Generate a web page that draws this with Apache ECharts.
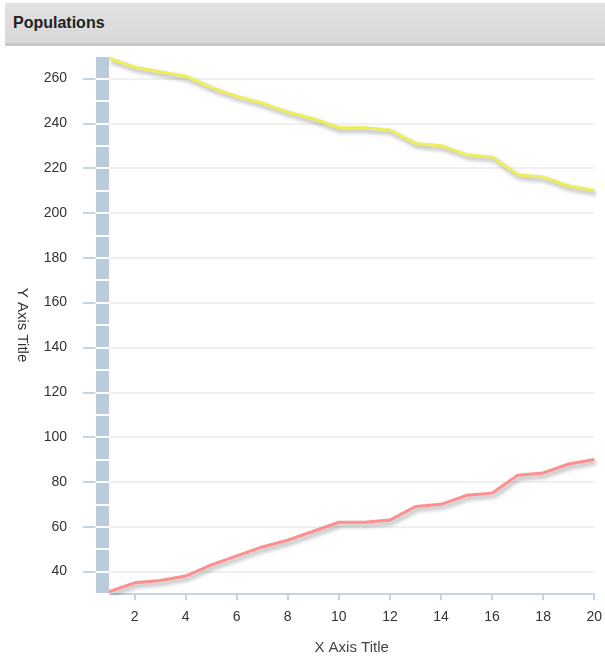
<!DOCTYPE html>
<html>
<head>
<meta charset="utf-8">
<title>Populations</title>
<script src="https://cdn.jsdelivr.net/npm/echarts@6/dist/echarts.min.js"></script>
<style>
  html, body { margin: 0; padding: 0; background: #fff; }
  #chart { position: absolute; left: 0; top: 0; width: 605px; height: 666px; }
  .header {
    position: absolute; left: 5px; top: 3px; right: 0; height: 40px;
    background: linear-gradient(#e2e2e2, #d8d8d8);
    border-bottom: 3px solid #c8c8c8;
    font: bold 16px 'Liberation Sans', Arial, sans-serif;
    color: #222; line-height: 40px; padding-left: 8px;
    z-index: 2;
  }
</style>
</head>
<body>
<div id="chart"></div>
<div class="header">Populations</div>
<script>
// x categories (1..20)
const xValues = ['1', '2', '3', '4', '5', '6', '7', '8', '9', '10',
  '11', '12', '13', '14', '15', '16', '17', '18', '19', '20']
// upper (yellow) series
const seriesA = [269, 265, 263, 261, 256, 252, 249, 245, 242, 238,
  238, 237, 231, 230, 226, 225, 217, 216, 212, 210]
// lower (red) series
const seriesB = [31, 35, 36, 38, 43, 47, 51, 54, 58, 62,
  62, 63, 69, 70, 74, 75, 83, 84, 88, 90]

const Y_MIN = 30
const Y_MAX = 270
const FONT = "'Liberation Sans', Arial, sans-serif"
const axisBlue = '#c5d4e3'
const bandColor = '#bccbdb'

const everyOther = (i) => i % 2 === 1

const chart = echarts.init(document.getElementById('chart'))

const lineShadow = {
  shadowColor: 'rgba(0,0,0,0.35)',
  shadowBlur: 4,
  shadowOffsetX: 2,
  shadowOffsetY: 3,
}

chart.setOption({
  animation: false,
  grid: { left: 109, right: 6, top: 56, bottom: 72 },
  xAxis: {
    type: 'category',
    data: xValues,
    boundaryGap: false,
    name: 'X Axis Title',
    nameLocation: 'middle',
    nameGap: 46,
    nameTextStyle: { color: '#444', fontSize: 15, fontFamily: FONT },
    axisLine: { lineStyle: { color: axisBlue, width: 2 } },
    axisTick: { alignWithLabel: true, interval: everyOther, length: 6, lineStyle: { color: axisBlue, width: 2 } },
    axisLabel: { interval: everyOther, color: '#333', fontSize: 14, fontFamily: FONT, margin: 16 },
    splitLine: { show: false },
  },
  yAxis: [
    {
      // labels, outer ticks and grid lines
      type: 'value',
      min: Y_MIN,
      max: Y_MAX,
      splitNumber: 12,
      position: 'left',
      offset: 13,
      name: 'Y Axis Title',
      nameLocation: 'middle',
      nameRotate: -90,
      nameGap: 66,
      nameTextStyle: { color: '#333', fontSize: 15, fontFamily: FONT },
      axisLine: { show: false },
      axisTick: { show: true, length: 13, lineStyle: { color: axisBlue, width: 2 } },
      axisLabel: { color: '#333', fontSize: 14, fontFamily: FONT, margin: 29, showMinLabel: false, showMaxLabel: false },
      splitLine: { show: true, showMinLine: false, showMaxLine: false, lineStyle: { color: '#ebebeb', width: 1.5 } },
    },
    {
      // the thick band
      type: 'value',
      min: Y_MIN,
      max: Y_MAX,
      interval: 10,
      position: 'left',
      offset: 6.5,
      axisLine: { show: true, lineStyle: { color: bandColor, width: 13, cap: 'butt' } },
      axisTick: { show: true, length: 7, lineStyle: { color: '#fff', width: 2 } },
      axisLabel: { show: false },
      splitLine: { show: false },
    },
    {
      // inner half of the band separators
      type: 'value',
      min: Y_MIN,
      max: Y_MAX,
      interval: 10,
      position: 'left',
      offset: 6.5,
      axisLine: { show: false },
      axisTick: { show: true, inside: true, length: 7, lineStyle: { color: '#fff', width: 2 } },
      axisLabel: { show: false },
      splitLine: { show: false },
    },
  ],
  series: [
    {
      type: 'line',
      data: seriesA,
      symbol: 'none',
      lineStyle: Object.assign({ color: '#eeee5a', width: 3 }, lineShadow),
    },
    {
      type: 'line',
      data: seriesB,
      symbol: 'none',
      lineStyle: Object.assign({ color: '#ff8e8e', width: 3 }, lineShadow),
    },
  ],
})

window.addEventListener('resize', () => chart.resize())
</script>
</body>
</html>
